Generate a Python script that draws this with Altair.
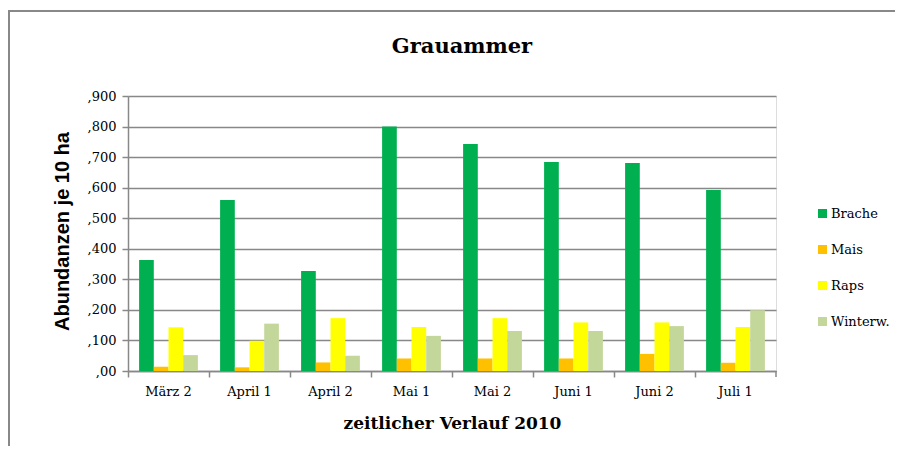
import altair as alt
import pandas as pd

categories = ["März 2", "April 1", "April 2", "Mai 1", "Mai 2", "Juni 1", "Juni 2", "Juli 1"]
series = ["Brache", "Mais", "Raps", "Winterw."]
brache = [0.363, 0.560, 0.327, 0.800, 0.743, 0.684, 0.681, 0.592]
mais = [0.014, 0.012, 0.028, 0.041, 0.041, 0.041, 0.056, 0.027]
raps = [0.143, 0.099, 0.173, 0.144, 0.173, 0.159, 0.159, 0.144]
winterw = [0.052, 0.155, 0.050, 0.115, 0.131, 0.131, 0.147, 0.199]
colors = ["#00B050", "#FFC000", "#FFFF00", "#C4D79B"]
y_ticks = [0.0, 0.1, 0.2, 0.3, 0.4, 0.5, 0.6, 0.7, 0.8, 0.9]
title_text = "Grauammer"

rows = []
for name, vals in zip(series, [brache, mais, raps, winterw]):
    for c, v in zip(categories, vals):
        rows.append({"zeit": c, "serie": name, "wert": v})
df = pd.DataFrame(rows)

SERIF = "DejaVu Serif"
GRAY = "#888888"

bars = alt.Chart(df).mark_bar().encode(
    x=alt.X("zeit:N", sort=categories,
            scale=alt.Scale(paddingInner=0, paddingOuter=0),
            axis=alt.Axis(title="zeitlicher Verlauf 2010", labelAngle=0, bandPosition=0,
                          labelFont=SERIF, labelFontSize=13, labelColor="#000",
                          labelPadding=8, tickSize=6, tickColor=GRAY, tickWidth=1.5,
                          domainColor=GRAY, domainWidth=1.5,
                          titleFont=SERIF, titleFontSize=17, titleFontWeight="bold",
                          titleColor="#000", titleBaseline="middle", titleY=52)),
    xOffset=alt.XOffset("serie:N", sort=series,
                        scale=alt.Scale(paddingInner=0, paddingOuter=0.755)),
    y=alt.Y("wert:Q", scale=alt.Scale(domain=[0, 0.9], nice=False),
            axis=alt.Axis(title="Abundanzen je 10 ha", values=y_ticks,
                          labelExpr="datum.value == 0 ? ',00' : replace(format(datum.value, '.3f'), '0.', ',')",
                          labelFont=SERIF, labelFontSize=13, labelColor="#000",
                          labelPadding=6, tickSize=6, tickColor=GRAY, tickWidth=1.5,
                          domainColor=GRAY, domainWidth=1.5,
                          grid=True, gridColor=GRAY, gridWidth=1.5,
                          titleFont="Liberation Sans", titleFontSize=20, titleFontWeight="bold",
                          titleColor="#000", titleAngle=-90, titleAlign="center",
                          titleBaseline="middle", titleX=-66, titleY=135)),
    color=alt.Color("serie:N", sort=series,
                    scale=alt.Scale(domain=series, range=colors),
                    legend=alt.Legend(title=None, orient="none", legendX=688, legendY=111,
                                      symbolType="square", symbolSize=81, symbolStrokeWidth=0,
                                      labelFont=SERIF, labelFontSize=13, labelColor="#000",
                                      rowPadding=22, labelOffset=2)),
)

one = pd.DataFrame({"a": [0]})

title_mark = alt.Chart(one).mark_text(
    font=SERIF, fontSize=21, fontWeight="bold", color="#000",
    align="center", baseline="middle").encode(
    x=alt.value(334), y=alt.value(-49), text=alt.value(title_text))

end_tick = alt.Chart(one).mark_rule(color=GRAY, strokeWidth=1.5).encode(
    x=alt.value(648), y=alt.value(275), y2=alt.value(281))

border_left = alt.Chart(one).mark_rule(color=GRAY, strokeWidth=2).encode(
    x=alt.value(-119), y=alt.value(-85), y2=alt.value(400))
border_top = alt.Chart(one).mark_rule(color=GRAY, strokeWidth=2).encode(
    x=alt.value(-120), x2=alt.value(775), y=alt.value(-85))

chart = alt.layer(bars, end_tick, border_left, border_top, title_mark).properties(
    width=648, height=275,
    padding={"left": 120, "top": 88, "right": 119, "bottom": 75},
    autosize=alt.AutoSizeParams(type="none"),
).configure_view(stroke=None).configure(background="white")

chart.save("out.html", embed_options={"renderer": "svg", "actions": False})
